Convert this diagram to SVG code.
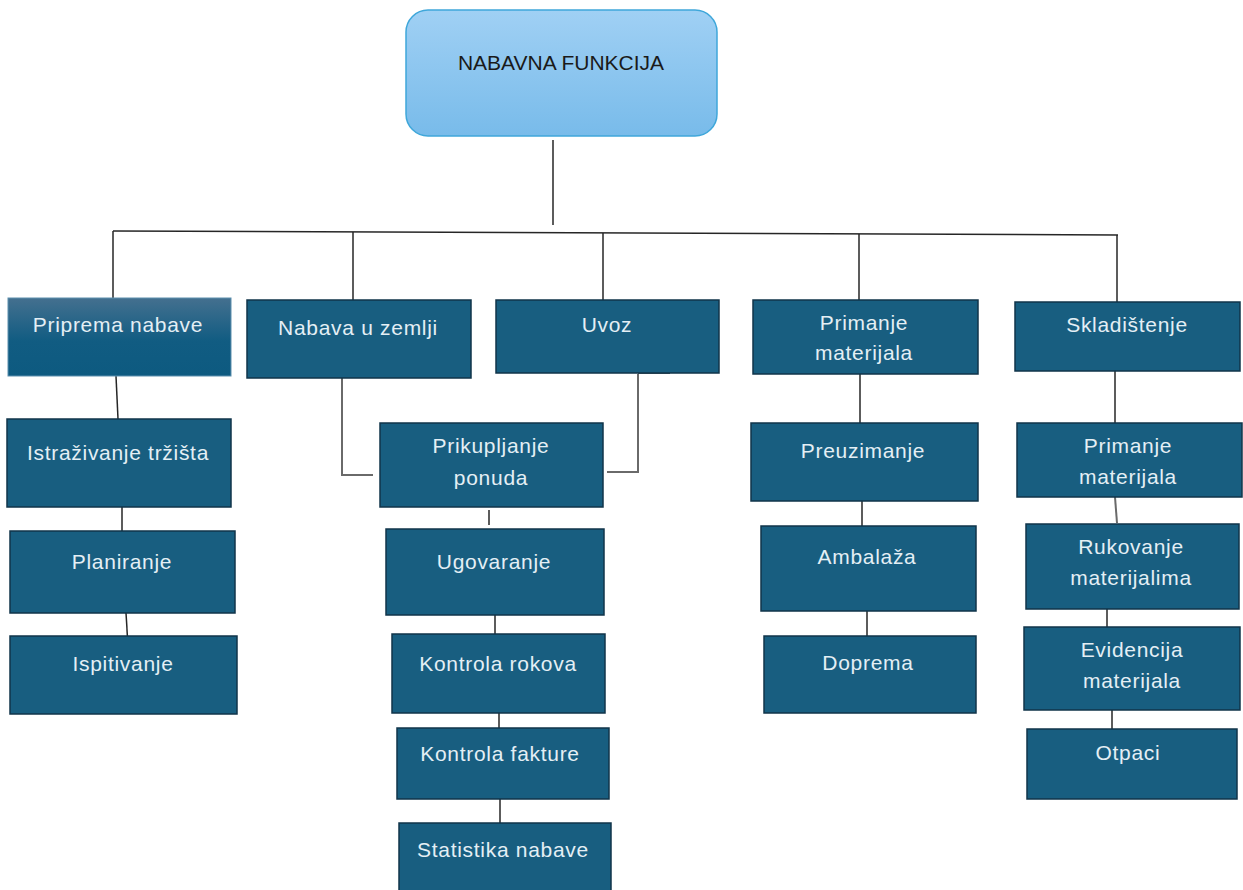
<svg xmlns="http://www.w3.org/2000/svg" width="1243" height="890" viewBox="0 0 1243 890">
<defs>
<linearGradient id="gTop" x1="0" y1="0" x2="0" y2="1">
<stop offset="0" stop-color="#A0D0F4"/>
<stop offset="1" stop-color="#78BBEA"/>
</linearGradient>
<linearGradient id="gPrip" x1="0" y1="0" x2="0" y2="1">
<stop offset="0" stop-color="#44708F"/>
<stop offset="0.55" stop-color="#115C82"/>
<stop offset="1" stop-color="#0D5A80"/>
</linearGradient>
</defs>
<style>
.box{fill:#185E80;stroke:#10344A;stroke-width:1.5}
.lbl{font-family:"Liberation Sans",Arial,sans-serif;font-size:21px;letter-spacing:0.7px;fill:#E4EFF5;text-anchor:middle}
.top{font-family:"Liberation Sans",Arial,sans-serif;font-size:21px;fill:#1A1A1A;text-anchor:middle}
.c{fill:none;stroke:#262626;stroke-width:1.5}
.cg{fill:none;stroke:#6A6A6A;stroke-width:2}
</style>
<rect width="1243" height="890" fill="#FFFFFF"/>

<g id="connectors">
<path class="c" d="M553,140 V225"/>
<path class="c" d="M113,231 L1118,235"/>
<path class="c" d="M113,231 V298"/>
<path class="c" d="M353,232 V300"/>
<path class="c" d="M603,233 V300"/>
<path class="c" d="M859,234 V300"/>
<path class="c" d="M1117,235 V302"/>
<path class="c" d="M116,376 L118,419"/>
<path class="c" d="M122,507 V531"/>
<path class="c" d="M126,613 L128,646"/>
<path class="cg" d="M342,378 V475 H373"/>
<path class="c" d="M310,377 H342" stroke-width="2.5"/>
<path class="cg" d="M638,374 V472 H607"/>
<path class="c" d="M638,373 H670" stroke-width="2.5"/>
<path class="c" d="M489,510 V525"/>
<path class="c" d="M495,615 V634"/>
<path class="c" d="M499,710 V734"/>
<path class="c" d="M500,797 V828"/>
<path class="c" d="M860,368 V423"/>
<path class="c" d="M862,495 V532"/>
<path class="c" d="M867,611 V637"/>
<path class="c" d="M1115,367 V423"/>
<path class="cg" d="M1115,497 L1117,523"/>
<path class="c" d="M1107,609 V631"/>
<path class="c" d="M1112,710 V730"/>
</g>

<g id="n-top">
<rect x="406" y="10" width="311" height="126" rx="22" fill="url(#gTop)" stroke="#3FA7DA" stroke-width="1.5"/>
<text class="top" x="561" y="70">NABAVNA FUNKCIJA</text>
</g>

<g id="n-priprema">
<rect x="8" y="298" width="223" height="78" fill="url(#gPrip)" stroke="#5C8FAE" stroke-width="1"/>
<text class="lbl" x="118" y="332">Priprema nabave</text>
</g>
<g id="n-nabava">
<rect class="box" x="247" y="300" width="224" height="78"/>
<text class="lbl" x="358" y="335">Nabava u zemlji</text>
</g>
<g id="n-uvoz">
<rect class="box" x="496" y="300" width="223" height="73"/>
<text class="lbl" x="607" y="332">Uvoz</text>
</g>
<g id="n-primanje1">
<rect class="box" x="753" y="300" width="225" height="74"/>
<text class="lbl" x="864" y="330">Primanje</text>
<text class="lbl" x="864" y="360">materijala</text>
</g>
<g id="n-skladistenje">
<rect class="box" x="1015" y="302" width="225" height="69"/>
<text class="lbl" x="1127" y="332">Skladištenje</text>
</g>

<g id="n-istrazivanje">
<rect class="box" x="7" y="419" width="224" height="88"/>
<text class="lbl" x="118" y="460">Istraživanje tržišta</text>
</g>
<g id="n-planiranje">
<rect class="box" x="10" y="531" width="225" height="82"/>
<text class="lbl" x="122" y="569">Planiranje</text>
</g>
<g id="n-ispitivanje">
<rect class="box" x="10" y="636" width="227" height="78"/>
<text class="lbl" x="123" y="671">Ispitivanje</text>
</g>

<g id="n-prikupljanje">
<rect class="box" x="380" y="423" width="223" height="84"/>
<text class="lbl" x="491" y="453">Prikupljanje</text>
<text class="lbl" x="491" y="485">ponuda</text>
</g>
<g id="n-ugovaranje">
<rect class="box" x="386" y="529" width="218" height="86"/>
<text class="lbl" x="494" y="569">Ugovaranje</text>
</g>
<g id="n-kontrola-rokova">
<rect class="box" x="392" y="634" width="213" height="79"/>
<text class="lbl" x="498" y="671">Kontrola rokova</text>
</g>
<g id="n-kontrola-fakture">
<rect class="box" x="397" y="728" width="212" height="71"/>
<text class="lbl" x="500" y="761">Kontrola fakture</text>
</g>
<g id="n-statistika">
<rect class="box" x="399" y="823" width="212" height="75"/>
<text class="lbl" x="503" y="857">Statistika nabave</text>
</g>

<g id="n-preuzimanje">
<rect class="box" x="751" y="423" width="227" height="78"/>
<text class="lbl" x="863" y="458">Preuzimanje</text>
</g>
<g id="n-ambalaza">
<rect class="box" x="761" y="526" width="215" height="85"/>
<text class="lbl" x="867" y="564">Ambalaža</text>
</g>
<g id="n-doprema">
<rect class="box" x="764" y="636" width="212" height="77"/>
<text class="lbl" x="868" y="670">Doprema</text>
</g>

<g id="n-primanje2">
<rect class="box" x="1017" y="423" width="225" height="74"/>
<text class="lbl" x="1128" y="453">Primanje</text>
<text class="lbl" x="1128" y="484">materijala</text>
</g>
<g id="n-rukovanje">
<rect class="box" x="1026" y="524" width="213" height="85"/>
<text class="lbl" x="1131" y="554">Rukovanje</text>
<text class="lbl" x="1131" y="585">materijalima</text>
</g>
<g id="n-evidencija">
<rect class="box" x="1024" y="627" width="216" height="83"/>
<text class="lbl" x="1132" y="657">Evidencija</text>
<text class="lbl" x="1132" y="688">materijala</text>
</g>
<g id="n-otpaci">
<rect class="box" x="1027" y="729" width="210" height="70"/>
<text class="lbl" x="1128" y="760">Otpaci</text>
</g>
</svg>
